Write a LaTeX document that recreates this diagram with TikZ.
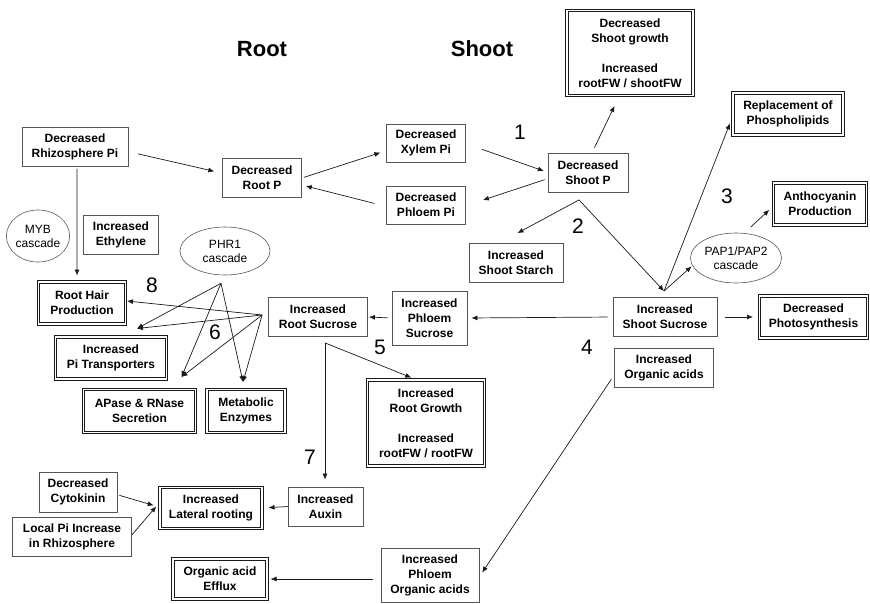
\documentclass[tikz,border=0pt]{standalone}
\usepackage{fontspec}
\setmainfont{Liberation Sans}
\usetikzlibrary{arrows.meta,calc,shapes.geometric}
\definecolor{Frame}{HTML}{555555}
\definecolor{Ink}{HTML}{1A1A1A}

\begin{document}
\begin{tikzpicture}[x=1pt,y=-1pt,
  box/.style={draw=Frame,line width=0.8pt,fill=white,align=center,inner sep=1pt,
    font=\fontsize{12}{15}\selectfont\bfseries},
  dbox/.style={box,draw=Ink,double,double distance=1.5pt,line width=1pt},
  oval/.style={ellipse,draw=Frame,line width=0.6pt,align=center,inner sep=0pt,
    font=\fontsize{12}{14}\selectfont},
  flow/.style={-{Latex[length=6pt,width=5pt]},line width=0.7pt,color=Ink},
  num/.style={font=\fontsize{21}{21}\selectfont},
  side/.style={font=\fontsize{22}{22}\selectfont\bfseries}
]
\useasboundingbox (0,0) rectangle (870,603);

% Headings and step numbers.
\node[side] (roothead) at (262,49) {Root};
\node[side] (shoothead) at (482,49) {Shoot};
\node[num] (n1) at (520,132) {1};
\node[num] (n2) at (578,226) {2};
\node[num] (n3) at (727,196) {3};
\node[num] (n4) at (587,347) {4};
\node[num] (n5) at (380,347) {5};
\node[num] (n6) at (215,332) {6};
\node[num] (n7) at (310,457) {7};
\node[num] (n8) at (152,285) {8};

% Root side.
\node[box,minimum width=106,minimum height=39] (rhizo) at (75,147) {Decreased\\Rhizosphere Pi};
\node[box,minimum width=79,minimum height=39] (rootp) at (262,178) {Decreased\\Root P};
\node[oval,minimum width=63,minimum height=52] (myb) at (38,236) {MYB\\cascade};
\node[box,minimum width=75,minimum height=39] (ethyl) at (121,235) {Increased\\Ethylene};
\node[oval,minimum width=90,minimum height=48] (phr) at (225,251) {PHR1\\cascade};
\node[dbox,minimum width=87,minimum height=42] (hair) at (82,303) {Root Hair\\Production};
\node[dbox,minimum width=111,minimum height=42] (pitr) at (111,358) {Increased\\Pi Transporters};
\node[dbox,minimum width=112,minimum height=43] (apase) at (139.5,411) {APase \& RNase\\Secretion};
\node[dbox,minimum width=78,minimum height=43] (metab) at (246,411) {Metabolic\\Enzymes};
\node[box,minimum width=99,minimum height=39] (rootsuc) at (318,317) {Increased\\Root Sucrose};
\node[box,minimum width=75,minimum height=54] (phlsuc) at (429.5,318) {Increased\\Phloem\\Sucrose};
\node[dbox,minimum width=117,minimum height=86] (rootgr) at (426,423)
  {Increased\\Root Growth\\[15pt]Increased\\rootFW / rootFW};
\node[box,minimum width=75,minimum height=39] (auxin) at (325.5,506.5) {Increased\\Auxin};
\node[dbox,minimum width=102,minimum height=41] (lateral) at (211,508) {Increased\\Lateral rooting};
\node[box,minimum width=78,minimum height=40] (cyto) at (78,492) {Decreased\\Cytokinin};
\node[box,minimum width=119,minimum height=39] (localpi) at (72,537) {Local Pi Increase\\in Rhizosphere};
\node[dbox,minimum width=94,minimum height=40] (efflux) at (220,579) {Organic acid\\Efflux};
\node[box,minimum width=98,minimum height=54] (phlorg) at (430,575) {Increased\\Phloem\\Organic acids};

% Shoot side.
\node[box,minimum width=79,minimum height=38] (xylem) at (426,143) {Decreased\\Xylem Pi};
\node[box,minimum width=79,minimum height=38] (phloem) at (426,205) {Decreased\\Phloem Pi};
\node[box,minimum width=80,minimum height=39] (shootp) at (588,173) {Decreased\\Shoot P};
\node[dbox,minimum width=126,minimum height=85] (growth) at (630,53)
  {Decreased\\Shoot growth\\[15pt]Increased\\rootFW / shootFW};
\node[dbox,minimum width=110,minimum height=42] (phospho) at (788,114) {Replacement of\\Phospholipids};
\node[dbox,minimum width=93,minimum height=42] (antho) at (820,204) {Anthocyanin\\Production};
\node[oval,minimum width=91,minimum height=50] (pap) at (736,258) {PAP1/PAP2\\cascade};
\node[box,minimum width=94,minimum height=39] (starch) at (516,262.5) {Increased\\Shoot Starch};
\node[box,minimum width=104,minimum height=39] (sucrose) at (665,317) {Increased\\Shoot Sucrose};
\node[dbox,minimum width=108,minimum height=42] (photo) at (813.5,317) {Decreased\\Photosynthesis};
\node[box,minimum width=99,minimum height=39] (orgac) at (664,368) {Increased\\Organic acids};

% Forks where several arrows meet.
\coordinate (shootfoot) at ($(shootp.south)+(-9,7)$);
\coordinate (suchead) at ($(sucrose.north)+(-1,-6)$);
\coordinate (rsfoot) at ($(rootsuc.south)+(7,6)$);
\coordinate (phrfoot) at ($(phr.south)+(-4,8)$);
\coordinate (sucfork) at ($(rootsuc.west)+(-6,-2)$);
\coordinate (hairtip) at ($(hair.east)+(1,-2)$);
\coordinate (pitip) at ($(pitr.north)+(26,-8)$);
\coordinate (apasetip) at ($(apase.north)+(42,-12)$);
\coordinate (metabtip) at ($(metab.north)+(-3,-7)$);

% Phosphate transport.
\draw[flow,shorten <=10pt,shorten >=8pt] (rhizo.-5) -- (rootp.173);
\draw[flow,shorten <=2pt,shorten >=6pt] (rhizo.-84) -- (hair.103);
\draw[flow,shorten <=2pt,shorten >=6pt] (rootp.east) -- (xylem.-169);
\draw[flow,shorten <=12pt,shorten >=4pt] (phloem.182) -- (rootp.-10);
\draw[flow,shorten <=17pt,shorten >=4pt] (xylem.-1) -- (shootp.179);
\draw[flow,shorten <=3pt,shorten >=18pt] (shootp.-172) -- (phloem.-1);
\draw[flow,shorten <=6pt,shorten >=11pt] (shootp.79) -- (growth.-104);
\draw[flow,shorten >=20pt] (shootfoot) -- (starch.129);
\draw[flow] (shootfoot) -- (suchead);

% Sucrose signalling.
\draw[flow,shorten >=7pt] (suchead) -- (phospho.-177);
\draw[flow,shorten >=1pt] (suchead) -- (pap.-170);
\draw[flow,shorten <=9pt,shorten >=5pt] (pap.72) -- (antho.-177);
\draw[flow,shorten <=8pt,shorten >=6pt] (sucrose.east) -- (photo.west);
\draw[flow,shorten <=5pt,shorten >=4pt] (sucrose.west) -- (phlsuc.east);
\draw[flow,shorten <=4pt,shorten >=1pt] (phlsuc.west) -- (rootsuc.east);
\draw[flow,shorten >=5pt] (rsfoot) -- (rootgr.103);
\draw[flow,shorten >=7pt] (rsfoot) -- (rsfoot |- auxin.north);
\draw[flow,shorten >=6pt] (auxin.west) -- (lateral.east);
\draw[flow,shorten <=2pt,shorten >=6pt] (cyto.-4) -- (lateral.179);
\draw[flow,shorten >=5pt] (localpi.2) -- (lateral.174);

% Organic acids.
\draw[flow,shorten <=5pt,shorten >=5pt] (orgac.-172) -- (phlorg.-2);
\draw[flow,shorten <=8pt,shorten >=3pt] (efflux.east -| phlorg.west) -- (efflux.east);

% Fans to the root responses.
\draw[flow] (phrfoot) -- (pitip); \draw[flow] (phrfoot) -- (apasetip);
\draw[flow] (phrfoot) -- (metabtip);
\draw[flow] (sucfork) -- (hairtip); \draw[flow] (sucfork) -- (pitip);
\draw[flow] (sucfork) -- (apasetip); \draw[flow] (sucfork) -- (metabtip);
\end{tikzpicture}
\end{document}
